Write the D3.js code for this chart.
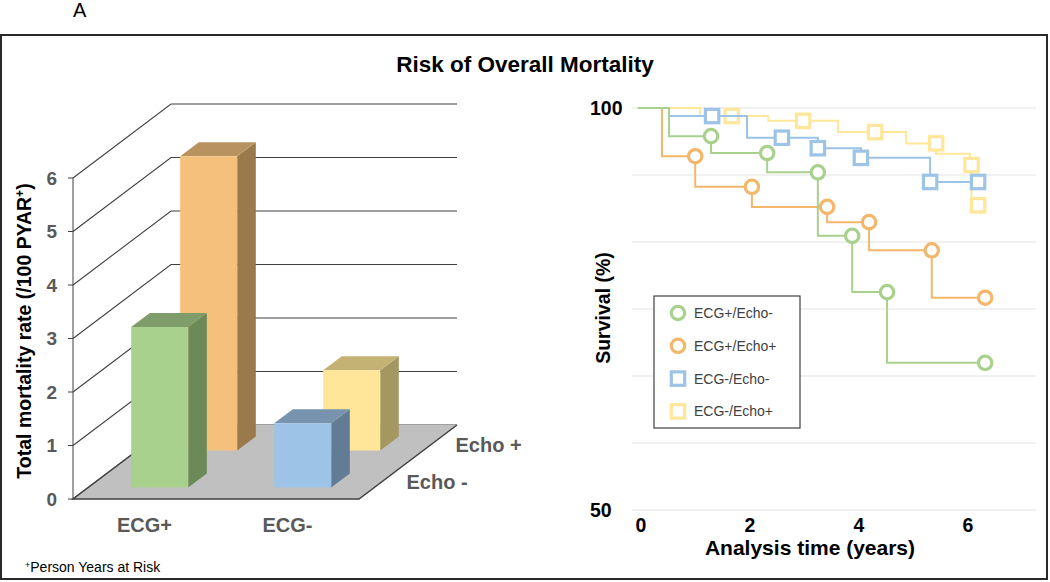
<!DOCTYPE html>
<html>
<head>
<meta charset="utf-8">
<script src="https://cdn.jsdelivr.net/npm/d3@7"></script>
<style>
  body { margin: 0; background: #fff; }
  text { font-family: 'Liberation Sans', Arial, sans-serif; }
</style>
</head>
<body>
<div id="chart"></div>
<script>
// bar chart data (per 100 person years at risk)
const ecgGroups = ['ECG+', 'ECG-'];
const echoRows = ['Echo -', 'Echo +'];
const rateEchoNeg = [3.0, 1.2];
const rateEchoPos = [5.5, 1.5];
const rateTicks = [0, 1, 2, 3, 4, 5, 6];

// survival curves: step vertices [years, %] and censor marks
const kmGroups = ['ECG+/Echo-', 'ECG+/Echo+', 'ECG-/Echo-', 'ECG-/Echo+'];
const kmSteps = [
    [[0, 100], [0.57, 96.5], [1.34, 94.4], [2.37, 92.0], [3.30, 84.1], [3.93, 77.1], [4.57, 68.3], [6.37, 68.3]],
    [[0, 100], [0.44, 94.0], [1.05, 90.2], [2.09, 87.7], [3.47, 85.8], [4.24, 82.3], [5.39, 76.4], [6.37, 76.4]],
    [[0, 100], [0.57, 99.0], [2.0, 96.3], [3.30, 95.0], [4.09, 93.8], [5.36, 90.8], [6.24, 90.8]],
    [[0, 100], [1.14, 99.0], [2.39, 98.4], [3.67, 97.0], [4.92, 95.6], [5.47, 94.3], [6.09, 92.9], [6.12, 87.9], [6.24, 87.9]]
];
const kmMarks = [
    [[1.34, 96.5], [2.37, 94.4], [3.30, 92.0], [3.93, 84.1], [4.57, 77.1], [6.37, 68.3]],
    [[1.05, 94.0], [2.09, 90.2], [3.47, 87.7], [4.24, 85.8], [5.39, 82.3], [6.37, 76.4]],
    [[1.36, 99.0], [2.64, 96.3], [3.30, 95.0], [4.09, 93.8], [5.36, 90.8], [6.24, 90.8]],
    [[1.72, 99.0], [3.03, 98.4], [4.35, 97.0], [5.47, 95.6], [6.12, 92.9], [6.24, 87.9]]
];
const kmXTicks = [0, 2, 4, 6];
const kmYLabels = [100, 50];

const width = 1050;
const height = 582;

const svg = d3.select('#chart')
    .append('svg')
    .attr('width', width)
    .attr('height', height);

svg.append('text')
    .attr('x', 73)
    .attr('y', 17)
    .style('font-size', '20px')
    .text('A');

svg.append('rect')
    .attr('x', 1)
    .attr('y', 35)
    .attr('width', 1046)
    .attr('height', 544)
    .attr('fill', 'none')
    .attr('stroke', '#2a2a2a')
    .attr('stroke-width', 2);

svg.append('text')
    .attr('x', 525)
    .attr('y', 72)
    .attr('text-anchor', 'middle')
    .style('font-size', '22.5px')
    .style('font-weight', 'bold')
    .text('Risk of Overall Mortality');

// ---------- 3D bar chart ----------
const floorLeft = 73, floorRight = 359;
const depthX = 98, depthY = -74;
const y3 = d3.scaleLinear().domain([0, 6]).range([499, 178]);
const xCat = d3.scalePoint().domain(ecgGroups).range([floorLeft, floorRight]).padding(0.5);
const zRow = d3.scalePoint().domain(echoRows).range([0, 1]).padding(0.5);
const barW = 57;
const barD = 0.19;
const proj = (x, v, d) => [x + depthX * d, y3(v) + depthY * d];
const pts = ps => ps.map(p => p.join(',')).join(' ');

const bar3d = svg.append('g');

// back wall grid lines
bar3d.selectAll('.grid')
    .data(rateTicks)
    .enter()
    .append('polyline')
    .attr('points', d => pts([proj(floorLeft, d, 0), proj(floorLeft, d, 1), proj(floorRight, d, 1)]))
    .attr('fill', 'none')
    .attr('stroke', '#404040')
    .attr('stroke-width', 1.1);

// floor
bar3d.append('polygon')
    .attr('points', pts([proj(floorLeft, 0, 0), proj(floorRight, 0, 0), proj(floorRight, 0, 1), proj(floorLeft, 0, 1)]))
    .attr('fill', '#c0c0c0');
bar3d.append('polyline')
    .attr('points', pts([proj(floorLeft, 0, 1), proj(floorLeft, 0, 0), proj(floorRight, 0, 0), proj(floorRight, 0, 1)]))
    .attr('fill', 'none')
    .attr('stroke', '#404040')
    .attr('stroke-width', 1.5);

// y axis
bar3d.append('line')
    .attr('x1', floorLeft).attr('x2', floorLeft)
    .attr('y1', y3(0)).attr('y2', y3(6))
    .attr('stroke', '#404040');
bar3d.selectAll('.tick')
    .data(rateTicks)
    .enter()
    .append('line')
    .attr('x1', floorLeft - 5).attr('x2', floorLeft)
    .attr('y1', d => y3(d)).attr('y2', d => y3(d))
    .attr('stroke', '#404040');
bar3d.selectAll('.ticklabel')
    .data(rateTicks)
    .enter()
    .append('text')
    .attr('x', floorLeft - 16)
    .attr('y', d => y3(d))
    .attr('dy', '0.36em')
    .attr('text-anchor', 'end')
    .style('font-size', '19px')
    .style('font-weight', 'bold')
    .style('fill', '#595959')
    .text(d => d);

const barColors = {
    'ECG+|Echo -': ['#a9d18e', '#6b8a58', '#7f9d6a'],
    'ECG+|Echo +': ['#f4c07b', '#9a7a4b', '#b8935f'],
    'ECG-|Echo -': ['#9dc3e6', '#627c96', '#7893ad'],
    'ECG-|Echo +': ['#ffe699', '#a59760', '#c4b174']
};

const bars = [];
echoRows.slice().reverse().forEach(row => {
    const vals = row === 'Echo -' ? rateEchoNeg : rateEchoPos;
    ecgGroups.forEach((g, i) => bars.push({ g, row, v: vals[i] }));
});

bars.forEach(b => {
    const x0 = xCat(b.g) - barW / 2;
    const x1 = x0 + barW;
    const df = zRow(b.row) - barD / 2;
    const db = zRow(b.row) + barD / 2;
    const c = barColors[b.g + '|' + b.row];
    bar3d.append('polygon')
        .attr('points', pts([proj(x1, 0, df), proj(x1, 0, db), proj(x1, b.v, db), proj(x1, b.v, df)]))
        .attr('fill', c[1]);
    bar3d.append('polygon')
        .attr('points', pts([proj(x0, b.v, df), proj(x1, b.v, df), proj(x1, b.v, db), proj(x0, b.v, db)]))
        .attr('fill', c[2]);
    bar3d.append('polygon')
        .attr('points', pts([proj(x0, 0, df), proj(x1, 0, df), proj(x1, b.v, df), proj(x0, b.v, df)]))
        .attr('fill', c[0]);
});

bar3d.selectAll('.cat')
    .data(ecgGroups)
    .enter()
    .append('text')
    .attr('x', d => xCat(d))
    .attr('y', 532)
    .attr('text-anchor', 'middle')
    .style('font-size', '20px')
    .style('font-weight', 'bold')
    .style('fill', '#595959')
    .text(d => d);

bar3d.selectAll('.row')
    .data(echoRows)
    .enter()
    .append('text')
    .attr('x', d => proj(floorRight, 0, zRow(d))[0] + 23)
    .attr('y', d => proj(floorRight, 0, zRow(d))[1] + 8)
    .style('font-size', '20px')
    .style('font-weight', 'bold')
    .style('fill', '#595959')
    .text(d => d);

const yTitle = bar3d.append('text')
    .attr('transform', 'translate(31,331) rotate(-90)')
    .attr('text-anchor', 'middle')
    .style('font-size', '19.5px')
    .style('font-weight', 'bold');
yTitle.append('tspan').text('Total mortality rate (/100 PYAR');
yTitle.append('tspan').attr('dy', -7).style('font-size', '12px').text('+');
yTitle.append('tspan').attr('dy', 7).text(')');

const foot = svg.append('text')
    .attr('x', 25)
    .attr('y', 572)
    .style('font-size', '14px');
foot.append('tspan').attr('dy', -4).style('font-size', '9px').text('+');
foot.append('tspan').attr('dy', 4).text('Person Years at Risk');

// ---------- Kaplan-Meier curves ----------
const xKm = d3.scaleLinear().domain([0, 7.2]).range([638, 638 + 7.2 * 54.5]);
const yKm = d3.scaleLinear().domain([50, 100]).range([510, 108]);
const kmColors = ['#a9d18e', '#f4b66a', '#9dc3e6', '#ffe699'];
const kmShapes = ['circle', 'circle', 'square', 'square'];

const km = svg.append('g');

km.selectAll('.kmgrid')
    .data(d3.range(7).map(i => 50 + i * 50 / 6))
    .enter()
    .append('line')
    .attr('x1', xKm(-0.11)).attr('x2', xKm(7.3))
    .attr('y1', d => yKm(d)).attr('y2', d => yKm(d))
    .attr('stroke', '#e3e3e3')
    .attr('stroke-width', 1.2);

km.selectAll('.kmy')
    .data(kmYLabels)
    .enter()
    .append('text')
    .attr('x', 590)
    .attr('y', d => yKm(d))
    .attr('dy', '0.36em')
    .style('font-size', '19.5px')
    .style('font-weight', 'bold')
    .text(d => d);

km.selectAll('.kmx')
    .data(kmXTicks)
    .enter()
    .append('text')
    .attr('x', d => xKm(d) + 3)
    .attr('y', 525)
    .attr('dy', '0.36em')
    .attr('text-anchor', 'middle')
    .style('font-size', '19.5px')
    .style('font-weight', 'bold')
    .text(d => d);

km.append('text')
    .attr('x', 810)
    .attr('y', 555)
    .attr('text-anchor', 'middle')
    .style('font-size', '21px')
    .style('font-weight', 'bold')
    .text('Analysis time (years)');

km.append('text')
    .attr('transform', 'translate(610,308) rotate(-90)')
    .attr('text-anchor', 'middle')
    .style('font-size', '19.5px')
    .style('font-weight', 'bold')
    .text('Survival (%)');

const stepLine = d3.line()
    .x(d => xKm(d[0]))
    .y(d => yKm(d[1]))
    .curve(d3.curveStepAfter);

const drawMark = (sel, shape, color, x, y) => {
    if (shape === 'circle') {
        sel.append('circle')
            .attr('cx', x).attr('cy', y).attr('r', 6.7)
            .attr('fill', '#fff')
            .attr('stroke', color)
            .attr('stroke-width', 3.2);
    } else {
        sel.append('rect')
            .attr('x', x - 6.7).attr('y', y - 6.7)
            .attr('width', 13.4).attr('height', 13.4)
            .attr('fill', '#fff')
            .attr('stroke', color)
            .attr('stroke-width', 3.2);
    }
};

// draw order: yellow, blue, orange, green
[3, 2, 1, 0].forEach(i => {
    const g = km.append('g');
    g.append('path')
        .attr('d', stepLine(kmSteps[i]))
        .attr('fill', 'none')
        .attr('stroke', kmColors[i])
        .attr('stroke-width', 2);
    kmMarks[i].forEach(m => drawMark(g, kmShapes[i], kmColors[i], xKm(m[0]), yKm(m[1])));
});

// legend
const legend = km.append('g').attr('transform', 'translate(654,296)');
legend.append('rect')
    .attr('width', 146)
    .attr('height', 132)
    .attr('fill', '#fff')
    .attr('stroke', '#404040')
    .attr('stroke-width', 1.2);
kmGroups.forEach((name, i) => {
    const ly = 17 + i * 32.8;
    drawMark(legend, kmShapes[i], kmColors[i], 24, ly);
    legend.append('text')
        .attr('x', 40)
        .attr('y', ly)
        .attr('dy', '0.36em')
        .style('font-size', '14px')
        .style('fill', '#404040')
        .text(name);
});
</script>
</body>
</html>
